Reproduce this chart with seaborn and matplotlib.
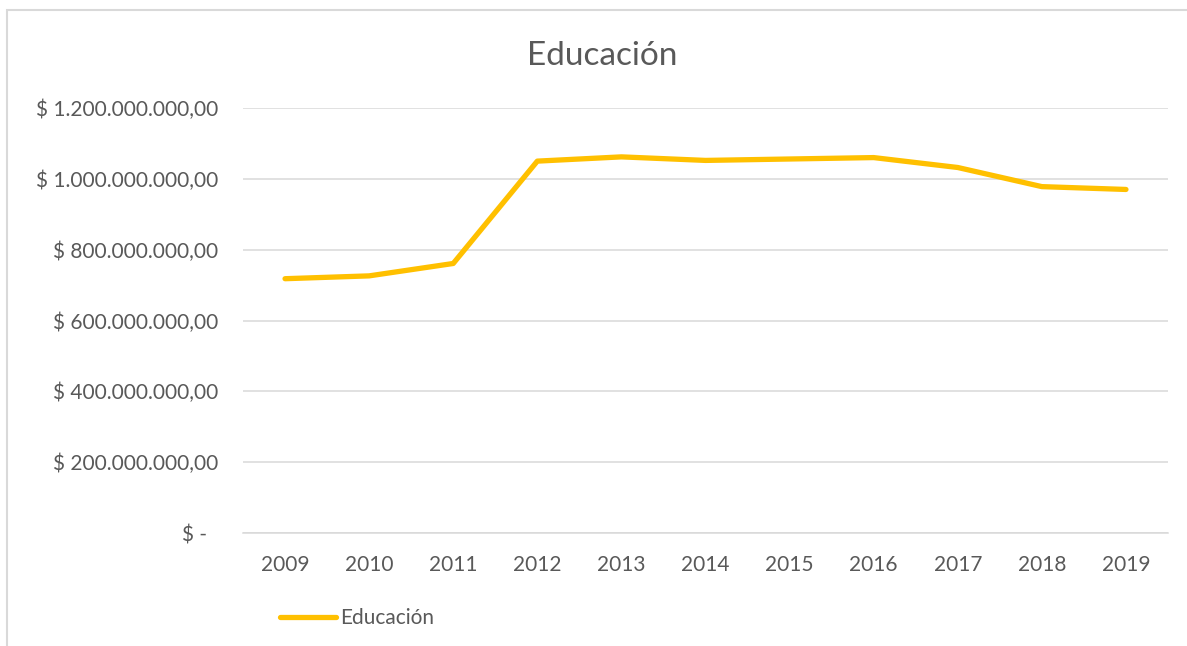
import matplotlib
matplotlib.use("Agg")
import matplotlib.pyplot as plt
import seaborn as sns
import pandas as pd
from matplotlib.patches import Rectangle
from matplotlib.lines import Line2D
from matplotlib.ticker import FuncFormatter, MultipleLocator

years = ["2009", "2010", "2011", "2012", "2013", "2014", "2015", "2016", "2017", "2018", "2019"]
educacion = [718e6, 726e6, 761e6, 1050e6, 1062e6, 1052e6, 1056e6, 1060e6, 1032e6, 978e6, 970e6]
series_name = "Educación"
title = "Educación"

sns.set_theme(style="white")
plt.rcParams['font.family'] = ['Lato', 'DejaVu Sans']
txt = "#595959"

df = pd.DataFrame({"year": years, "value": educacion, "serie": series_name})

fig = plt.figure(figsize=(11.87, 6.46), dpi=100)
ax = fig.add_axes([243/1187, 1-533/646, (1168-243)/1187, (533-108)/646])

sns.lineplot(data=df, x="year", y="value", hue="serie", palette=["#FFC000"],
             linewidth=3.8, ax=ax, sort=False, legend=False)
ax.lines[0].set_solid_capstyle("round")
ax.lines[0].set_solid_joinstyle("round")

ax.set_xlim(-0.5, len(years) - 0.5)
ax.set_ylim(0, 1.2e9)
ax.yaxis.set_major_locator(MultipleLocator(2e8))

def fmt(v, pos):
    if abs(v) < 1:
        return "$ -  "
    s = f"{v:,.2f}".replace(",", "X").replace(".", ",").replace("X", ".")
    return f"$ {s}"

ax.yaxis.set_major_formatter(FuncFormatter(fmt))
ax.grid(axis="y", color="#D9D9D9", linewidth=1.1)
ax.set_axisbelow(True)
for s in ["top", "right", "left"]:
    ax.spines[s].set_visible(False)
ax.spines["bottom"].set_color("#D9D9D9")
ax.spines["bottom"].set_linewidth(1.1)
ax.tick_params(axis="y", length=0, pad=18, labelsize=15, labelcolor=txt)
ax.tick_params(axis="x", length=0, pad=15.5, labelsize=15, labelcolor=txt)
ax.set_xlabel("")
ax.set_ylabel("")

fig.text(602/1187, 1-56/646, title, ha="center", va="center", fontsize=24, color=txt)

handle = Line2D([], [], color="#FFC000", linewidth=3.8, solid_capstyle="round")
fig.legend([handle], [series_name], loc="center left",
           bbox_to_anchor=(280/1187, 1-618.5/646), frameon=False,
           fontsize=15, labelcolor=txt, handlelength=2.7, handletextpad=0.2,
           borderaxespad=0, borderpad=0)

fig.add_artist(Rectangle((6.5/1187, -0.1), 1.2, 1-10.5/646 + 0.1, transform=fig.transFigure,
                         fill=False, edgecolor="#D9D9D9", linewidth=1.5))

fig.savefig("out.png", dpi=100)
